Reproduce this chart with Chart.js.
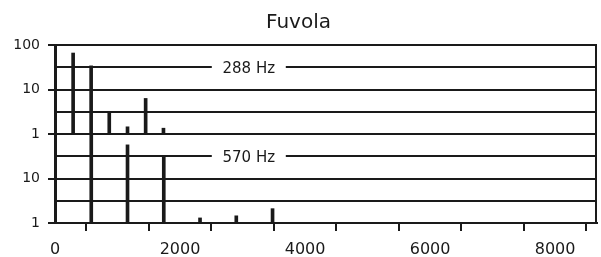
<!DOCTYPE html>
<html>
<head>
<meta charset="utf-8">
<script src="https://cdn.jsdelivr.net/npm/chart.js@4"></script>
<style>
  body { margin: 0; background: #fff; }
  #wrap { width: 601px; height: 257px; }
</style>
</head>
<body>
<div id="wrap"><canvas id="myChart"></canvas></div>
<script>
// upper panel: 288 Hz tone
var topFreq = [290, 578, 868, 1160, 1450, 1735];
var topAmp = [66, 34, 3.2, 1.45, 6.3, 1.35];
// lower panel: 570 Hz tone
var botFreq = [580, 1160, 1740, 2320, 2900, 3480];
var botAmp = [100, 57, 31, 1.3, 1.45, 2.1];

var yTicks = [1, 3.16, 10, 31.6, 100];
var xTicks = [0, 1000, 2000, 3000, 4000, 5000, 6000, 7000, 8000];
var panelLabels = ['288 Hz', '570 Hz'];

var ink = '#1a1a1a';
var font = 'DejaVu Sans';

function points(xs, ys) {
  return xs.map(function (x, i) { return { x: x, y: ys[i] }; });
}

function isDecade(v) {
  return v === 1 || v === 10 || v === 100;
}

function yAxis(showTop) {
  return {
    type: 'logarithmic',
    position: 'left',
    stack: 'panels',
    stackWeight: 1,
    min: 1,
    max: 100,
    afterBuildTicks: function (s) {
      s.ticks = yTicks.map(function (v) { return { value: v }; });
    },
    afterFit: function (s) { s.width = 55; },
    border: { display: true, color: ink, width: 3 },
    grid: {
      color: ink,
      lineWidth: 2,
      tickLength: 7,
      tickColor: function (c) { return isDecade(c.tick.value) ? ink : 'rgba(0,0,0,0)'; }
    },
    ticks: {
      autoSkip: false,
      padding: 8,
      color: ink,
      font: { family: font, size: 14 },
      callback: function (v) {
        if (!isDecade(v)) return '';
        if (v === 100 && !showTop) return '';
        return String(v);
      }
    }
  };
}

var framePlugin = {
  id: 'frame',
  afterDraw: function (chart) {
    var c = chart.ctx, a = chart.chartArea;
    c.save();
    c.strokeStyle = ink;
    c.lineWidth = 2;
    c.beginPath();
    c.moveTo(a.right - 1, a.top);
    c.lineTo(a.right - 1, a.bottom);
    c.stroke();

    // panel labels sitting in a gap of the middle grid line
    c.font = '15px "' + font + '"';
    c.textAlign = 'center';
    c.textBaseline = 'middle';
    var x = chart.scales.x.getPixelForValue(3100);
    ['yTop', 'yBot'].forEach(function (id, i) {
      var y = chart.scales[id].getPixelForValue(yTicks[3]);
      c.fillStyle = '#fff';
      c.fillRect(x - 37, y - 6, 74, 12);
      c.fillStyle = ink;
      c.fillText(panelLabels[i], x, y + 2);
    });
    c.restore();
  }
};

new Chart(document.getElementById('myChart'), {
  type: 'bar',
  data: {
    datasets: [
      { data: points(topFreq, topAmp), yAxisID: 'yTop', backgroundColor: ink },
      { data: points(botFreq, botAmp), yAxisID: 'yBot', backgroundColor: ink }
    ]
  },
  options: {
    animation: false,
    maintainAspectRatio: false,
    responsive: true,
    layout: { padding: { right: 4 } },
    datasets: { bar: { barThickness: 3, grouped: false } },
    plugins: {
      legend: { display: false },
      tooltip: { enabled: false },
      title: {
        display: true,
        text: 'Fuvola',
        color: ink,
        font: { family: font, size: 20, weight: 'normal', lineHeight: 1.2 },
        padding: { top: 11, bottom: 10 }
      }
    },
    scales: {
      x: {
        type: 'linear',
        min: 0,
        max: 8670,
        offset: false,
        afterBuildTicks: function (s) {
          s.ticks = xTicks.map(function (v) { return { value: v }; });
        },
        afterFit: function (s) { s.height = 34; },
        border: { display: true, color: ink, width: 2 },
        grid: { drawOnChartArea: false, color: ink, lineWidth: 2, tickLength: 8 },
        ticks: {
          autoSkip: false,
          maxRotation: 0,
          padding: 9,
          color: ink,
          font: { family: font, size: 16 },
          callback: function (v) { return v % 2000 === 0 ? String(v) : ''; }
        }
      },
      // the first axis of a stack is laid out at the bottom
      yBot: yAxis(false),
      yTop: yAxis(true)
    }
  },
  plugins: [framePlugin]
});
</script>
</body>
</html>
